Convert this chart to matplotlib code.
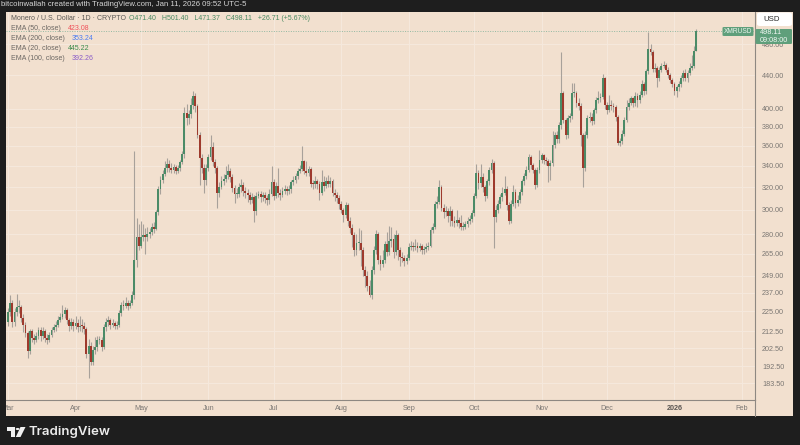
import numpy as np
import pandas as pd
import matplotlib
matplotlib.use("Agg")
import matplotlib.pyplot as plt
import matplotlib.dates as mdates
from matplotlib.patches import Rectangle, FancyBboxPatch, Polygon, Circle
from matplotlib.lines import Line2D
from matplotlib.ticker import NullLocator, NullFormatter
from matplotlib.transforms import Bbox

# XMR/USD daily candles, 1 Mar 2025 -> 11 Jan 2026
start_date = "2025-03-01"
first_open = 218.0
closes = [
    224.5, 230, 218.5, 224.5, 228, 228, 220.5, 216.5, 211.5, 201,
    212.5, 208.5, 207.5, 209.5, 213.5, 209.5, 212.5, 208.5, 207.5, 210.5,
    213.5, 215, 216.5, 219.5, 221.5, 223, 225.5, 219.5, 216, 218,
    216, 217.5, 215, 216, 215.5, 214, 199.5, 204, 195, 201.5,
    203, 207.5, 207.5, 203.5, 215, 218.5, 219.5, 216.5, 217.5, 216,
    216.5, 224, 229, 228.5, 230.5, 228.5, 230.5, 235.5, 260, 278,
    271, 278, 279, 278, 280, 282, 286, 284.5, 298, 318,
    327, 332, 337.5, 342, 337.5, 336, 339, 335.5, 337.5, 344,
    351.5, 395, 389, 393.5, 404, 415, 403, 371.5, 348, 337.5,
    327, 337.5, 349, 358.5, 344, 337.5, 315, 320, 326, 328,
    331, 335.5, 329, 319, 314, 314, 320, 322, 317, 315,
    313, 309, 311, 299, 312.5, 314, 311, 313, 310, 308.5,
    314, 324.5, 312.5, 321.5, 315, 313, 317, 318.5, 316.5, 318,
    325, 327, 330, 335.5, 337, 344.5, 335.5, 333.5, 337, 323,
    322.5, 326, 323, 315, 325, 321.5, 326, 323, 326, 315,
    313, 310, 305.5, 300, 295.5, 304.5, 291, 285, 279, 268,
    273, 273, 268, 253, 249, 242, 235.5, 253, 268, 280,
    260, 257.5, 260, 272, 266, 275, 276.5, 266, 279, 268,
    262.5, 262, 259.5, 262, 270, 270.5, 270, 270.5, 269, 270.5,
    267.5, 268.5, 270, 271, 283.5, 286, 305.5, 307, 320, 302,
    298, 299.5, 294.5, 299, 290.5, 289, 291.5, 289, 286, 286,
    288, 291, 292.5, 297, 312.5, 333, 323.5, 329.5, 320, 312,
    325.5, 336.5, 343, 294, 300, 305, 311, 315, 318, 304,
    291, 305.5, 315.5, 306, 309, 315.5, 325.5, 330.5, 336.5, 349,
    341, 336, 322, 336, 346, 350.5, 346, 344.5, 339.5, 343,
    361, 371, 367, 382, 418, 387.5, 371, 389.5, 391.5, 418,
    418.5, 407, 403, 371, 338, 371.5, 389.5, 391, 386, 398.5,
    410, 412, 414, 436, 404, 398.5, 404, 402.5, 401.5, 391,
    362.5, 364.5, 372, 387.5, 402, 407, 412, 406, 414.5, 410,
    416, 429.5, 420, 445, 474.5, 470.5, 448, 449.5, 436, 447,
    452, 453, 447, 440, 434, 429.5, 420.5, 425, 429.5, 436.5,
    443, 436.5, 443, 449.5, 452, 471.4, 498.11,
]
highs = [
    227, 235.5, 232, 227, 236, 232, 229, 223, 218, 213,
    214, 214, 211, 212, 215, 215, 215, 214, 211, 212,
    215, 217, 219, 222, 224, 229, 228, 227, 221, 221,
    220, 222, 220, 222, 220, 218, 215, 208, 206, 204,
    209, 210, 210, 209, 217, 221, 222, 221, 220, 219,
    219, 226, 231, 232, 234, 232, 232, 238, 355, 293,
    288, 291, 288, 285, 286, 285, 289, 290, 300, 321,
    330, 336, 345, 348, 346, 343, 342, 341, 341, 346,
    355, 402, 405, 398, 412, 420, 418, 405, 374, 352,
    342, 342, 352, 371.5, 364, 347, 340, 325, 330, 332,
    340, 342, 338, 332, 322, 319, 324, 328, 325, 320,
    318, 316, 315, 313, 316, 317, 317, 316, 316, 313,
    318, 340, 328, 325, 338, 318, 320, 322, 321, 322,
    327, 330, 333, 338, 341, 360, 346, 345, 340, 339,
    327, 330, 328, 326, 336, 330, 329, 331, 329, 328,
    318, 316, 313, 308, 302, 307, 306, 294, 288, 282,
    280, 285, 283, 270, 256, 252, 246, 256, 271, 283,
    282, 264, 268, 275, 282, 287, 286, 280, 283, 281,
    270, 266, 264, 265, 273, 275, 274, 276, 274, 273,
    272, 271, 273, 274, 286, 289, 308, 312, 327, 322,
    305, 303, 302, 303, 301, 295, 300, 294, 296, 290,
    291, 294, 296, 300, 315, 342, 336, 342, 333, 322,
    328, 339, 347, 345, 304, 309, 314, 320, 330, 321,
    307, 309, 322, 318, 313, 318, 328, 333, 340, 352,
    351, 343, 338, 339, 356, 353, 352, 349, 347, 346,
    375, 374, 375, 385, 470, 421, 390, 393, 395, 430,
    430, 420, 412, 406, 373, 375, 393, 396, 395, 401,
    414, 420, 418, 442, 438, 408, 416, 410, 406, 404,
    393, 368, 376, 391, 410, 412, 415, 414, 419, 418,
    420, 434, 432, 448, 498, 480, 473, 455, 452, 450,
    455, 458, 456, 450, 443, 437, 432, 428, 433, 440,
    447, 448, 446, 456, 466, 478, 501.4,
]
lows = [
    216, 222, 215, 216, 222, 224, 218, 212, 209, 197,
    199, 206, 205, 206, 208, 207, 208, 206, 205, 206,
    209, 212, 213, 215, 218, 220, 221, 217, 213, 214,
    213, 214, 212, 213, 212, 211, 197, 186, 193, 193,
    199, 201, 205, 201, 202, 213, 216, 214, 215, 214,
    214, 215, 222, 226, 227, 226, 227, 229, 233, 255,
    268, 269, 275, 265, 275, 277, 279, 281, 283, 296,
    314, 324, 330, 334, 334, 333, 333, 332, 333, 335,
    342, 348, 382, 383, 390, 400, 396, 368, 322, 333,
    315, 322, 335, 346, 340, 333, 302, 311, 318, 322,
    325, 328, 325, 316, 306, 310, 311, 316, 312, 310,
    307, 305, 306, 290, 296, 310, 307, 308, 306, 304,
    305, 312, 309, 310, 311, 309, 311, 314, 313, 314,
    315, 322, 324, 328, 333, 335, 332, 330, 330, 320,
    318, 319, 318, 309, 313, 317, 319, 320, 320, 312,
    308, 306, 301, 297, 290, 293, 287, 281, 270, 263,
    264, 268, 256, 249, 241, 238, 234, 233, 250, 265,
    257, 253, 255, 258, 263, 264, 270, 262, 264, 260,
    256, 259, 256, 257, 260, 268, 267, 268, 266, 267,
    265, 265, 266, 268, 270, 281, 284, 302, 305, 299,
    293, 295, 290, 287, 287, 286, 287, 285, 283, 283,
    284, 286, 288, 290, 295, 310, 318, 320, 316, 308,
    310, 322, 333, 269, 290, 297, 302, 308, 313, 300,
    288, 289, 303, 302, 303, 306, 313, 322, 328, 334,
    337, 333, 318, 320, 333, 343, 342, 341, 325, 327,
    340, 358, 363, 363, 378, 384, 367, 368, 385, 388,
    413, 402, 398, 360, 320.5, 335, 368, 385, 382, 383,
    395, 406, 408, 411, 400, 394, 396, 398, 396, 386,
    361, 360, 362, 370, 385, 399, 404, 402, 403, 402,
    406, 413, 416, 417, 442, 466, 444, 444, 425, 433,
    444, 449, 444, 436, 430, 425, 416, 414, 421, 426,
    433, 433, 432, 440, 447, 449, 471.37,
]

month_starts = ["2025-03-01", "2025-04-01", "2025-05-01", "2025-06-01", "2025-07-01",
                "2025-08-01", "2025-09-01", "2025-10-01", "2025-11-01", "2025-12-01",
                "2026-01-01", "2026-02-01"]
month_labels = ["Mar", "Apr", "May", "Jun", "Jul", "Aug", "Sep", "Oct", "Nov", "Dec", "2026", "Feb"]
price_ticks = [183.5, 192.5, 202.5, 212.5, 225, 237, 249, 265, 280, 300, 320, 340, 360, 380, 400, 440, 480]
last_price = 498.11
ohlc_text = "O471.40   H501.40   L471.37   C498.11   +26.71 (+5.67%)"

ema_labels = ["EMA (50, close)", "EMA (200, close)", "EMA (20, close)", "EMA (100, close)"]
ema_values = ["423.08", "353.24", "445.22", "392.26"]
ema_colors = ["#f0525a", "#4a7cf2", "#3c8c4e", "#8a5cc8"]

BG = "#f2e0cf"
GRID = "#f6e9dd"
DARK = "#1e1e1e"
UP = "#4b8b67"
DOWN = "#9e3a2d"
WICK = "#a8a19a"
AXC = "#7b7773"
GREEN_TAG = "#5f9f7b"

W, H = 800, 445


def fx(x):
    return x / W


def fy(y):
    return 1 - y / H


plt.rcParams['font.family'] = ['Liberation Sans', 'DejaVu Sans']

fig = plt.figure(figsize=(8, 4.45), dpi=100, facecolor=DARK)
fig.patches.append(Rectangle((fx(6), fy(416)), fx(793) - fx(6), fy(12) - fy(416),
                             transform=fig.transFigure, facecolor=BG, edgecolor="none", zorder=-5))

ax = fig.add_axes([fx(6), fy(400), fx(755) - fx(6), fy(12) - fy(400)], facecolor=BG)
ax.set_zorder(1)

dates = pd.date_range(start_date, periods=len(closes), freq="D")
x = mdates.date2num(dates)
opens = [first_open] + closes[:-1]
o = np.array(opens)
c = np.array(closes)
colors = [UP if cc >= oo else DOWN for oo, cc in zip(o, c)]
bottoms = np.minimum(o, c)
heights = np.maximum(np.abs(c - o), bottoms * 0.003)

ax.vlines(x, lows, highs, color=WICK, lw=0.8, zorder=2)
ax.bar(x, heights, bottom=bottoms, width=0.85, color=colors, linewidth=0, zorder=3)
ax.axhline(last_price, color="#93b9a3", lw=0.7, ls=(0, (1, 1.5)), zorder=1)

x0 = x[0]
ax.set_xlim(x0 - 0.92, x0 + 342.97)
ax.set_yscale("log")
ax.set_ylim(174.85, 526.4)

ax.yaxis.tick_right()
ax.set_yticks(price_ticks)
ax.set_yticklabels([f"{p:.2f}" for p in price_ticks])
ax.yaxis.set_minor_locator(NullLocator())
ax.yaxis.set_minor_formatter(NullFormatter())
ax.tick_params(axis="y", length=0, pad=5, labelsize=5.2, labelcolor=AXC)

ax.set_xticks(mdates.date2num(pd.to_datetime(month_starts)))
ax.set_xticklabels(month_labels)
ax.tick_params(axis="x", length=0, pad=3.5, labelsize=5.2, labelcolor=AXC)
clip = Bbox.from_extents(6, 0, 800, 445)
for lbl in ax.get_xticklabels():
    lbl.set_clip_on(True)
    lbl.set_clip_box(clip)
    if lbl.get_text() == "2026":
        lbl.set_fontweight("bold")
        lbl.set_color("#5a5652")

ax.grid(True, color=GRID, lw=0.7)
ax.set_axisbelow(True)
for side in ["top", "left"]:
    ax.spines[side].set_visible(False)
for side in ["right", "bottom"]:
    ax.spines[side].set_color("#8e8882")
    ax.spines[side].set_linewidth(0.8)
fig.lines.append(Line2D([fx(755), fx(755)], [fy(400), fy(416)], transform=fig.transFigure,
                        color="#8e8882", lw=0.8))

# header strip
fig.text(fx(1), fy(5), "bitcoinwallah created with TradingView.com, Jan 11, 2026 09:52 UTC-5",
         color="#d6d6d6", fontsize=5.6, va="center", ha="left")

# legend lines
fig.text(fx(11), fy(18.3), "Monero / U.S. Dollar · 1D · CRYPTO", color="#5c5955",
         fontsize=5, va="center", zorder=6)
fig.text(fx(129), fy(18.3), ohlc_text, color="#4a8a62", fontsize=5, va="center", zorder=6)
val_x = [67.7, 72, 67.7, 71.3]
for i, (lab, val, col) in enumerate(zip(ema_labels, ema_values, ema_colors)):
    yy = 28.7 + i * 10.1
    fig.text(fx(11), fy(yy), lab, color="#6b6763", fontsize=5, va="center", zorder=6)
    fig.text(fx(val_x[i]), fy(yy), val, color=col, fontsize=5, va="center", zorder=6)

# symbol tag and last price tag
fig.patches.append(FancyBboxPatch((fx(722.5), fy(36)), fx(31), fy(27) - fy(36),
                                  boxstyle="round,pad=0,rounding_size=0.002",
                                  transform=fig.transFigure, facecolor=GREEN_TAG,
                                  edgecolor="none", zorder=5))
fig.text(fx(738), fy(31.5), "XMRUSD", color="#e9f3ec", fontsize=4.8, ha="center", va="center", zorder=6)
fig.patches.append(FancyBboxPatch((fx(755.5), fy(44)), fx(36.5), fy(29) - fy(44),
                                  boxstyle="round,pad=0,rounding_size=0.002",
                                  transform=fig.transFigure, facecolor=GREEN_TAG,
                                  edgecolor="none", zorder=5))
fig.text(fx(760), fy(32.8), f"{last_price:.2f}", color="#f2f7f3", fontsize=5.2, va="center", zorder=6)
fig.text(fx(760), fy(40), "09:08:00", color="#f2f7f3", fontsize=5.2, va="center", zorder=6)

# currency button
fig.patches.append(FancyBboxPatch((fx(757), fy(26)), fx(35), fy(12.5) - fy(26),
                                  boxstyle="round,pad=0,rounding_size=0.004",
                                  transform=fig.transFigure, facecolor="#ffffff",
                                  edgecolor="none", zorder=5))
fig.text(fx(763), fy(19.3), "USD", color="#2a2a2a", fontsize=5.6, va="center", zorder=6)

# TradingView footer logo
logo_t = [(7, 427), (15, 427), (15, 437), (11, 437), (11, 431), (7, 431)]
logo_v = [(20.5, 427), (25.5, 427), (20.5, 437), (15.8, 437)]
fig.patches.append(Polygon([(fx(a), fy(b)) for a, b in logo_t], closed=True,
                           transform=fig.transFigure, facecolor="#f0f0f0", edgecolor="none"))
fig.patches.append(Polygon([(fx(a), fy(b)) for a, b in logo_v], closed=True,
                           transform=fig.transFigure, facecolor="#f0f0f0", edgecolor="none"))
fig.patches.append(Circle((fx(17.6), fy(429)), 1.9 / W, transform=fig.transFigure,
                          facecolor="#f0f0f0", edgecolor="none"))
fig.text(fx(29), fy(432), "TradingView", color="#ececec", fontsize=9.5,
         fontfamily="Inter", fontweight="semibold", va="center")

fig.savefig("out.png", dpi=100, facecolor=DARK)
